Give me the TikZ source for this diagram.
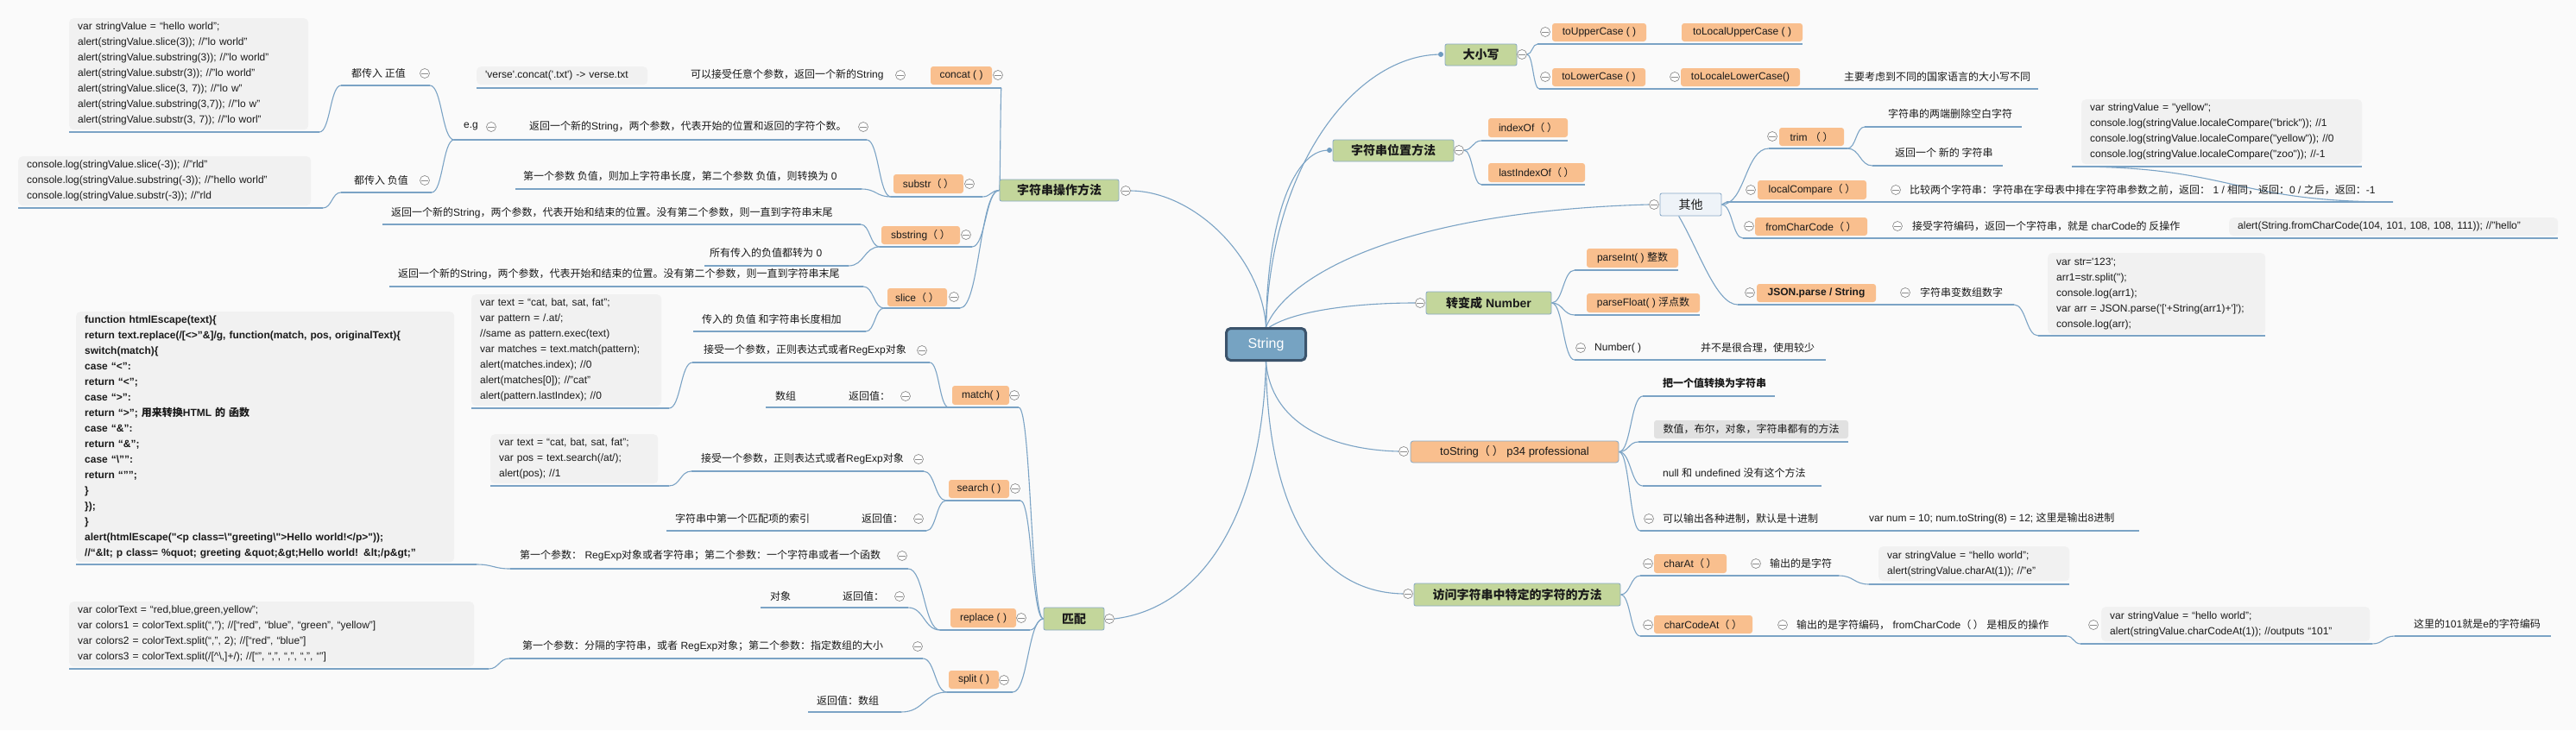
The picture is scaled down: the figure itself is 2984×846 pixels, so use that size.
\documentclass[tikz,border=0pt]{standalone}
\usepackage{fontspec}
\setmainfont{Liberation Sans}[Ligatures=TeXOff]
\newfontfamily\cjkfont{Noto Sans CJK SC}
\usetikzlibrary{calc}
\pgfdeclarelayer{back}
\pgfdeclarelayer{lines}
\pgfsetlayers{back,lines,main}
\definecolor{bgc}{HTML}{FAFAFA}
\definecolor{lnc}{HTML}{7BA3C5}
\definecolor{orng}{HTML}{F9BF8E}
\definecolor{grn}{HTML}{C3D69B}
\definecolor{gbord}{HTML}{88A9C6}
\definecolor{codebg}{HTML}{F1F1F1}
\definecolor{graybox}{HTML}{E1E1E1}
\definecolor{qtfill}{HTML}{EEF3F8}
\definecolor{rootf}{HTML}{76A3C2}
\definecolor{rootb}{HTML}{3B536B}
\definecolor{circc}{HTML}{8C8C8C}
\definecolor{txtc}{HTML}{1A1A1A}
\definecolor{dotc}{HTML}{6E9BC0}
\newcommand\zh[1]{{\cjkfont #1}}
\newcommand\mmlink[2]{\draw[ln] let \p1=(#1), \p2=(#2) in (\p1) .. controls ({0.5*\x1+0.5*\x2},\y1) and ({0.5*\x1+0.5*\x2},\y2) .. (\p2);}
\newcommand\mmul[5]{\coordinate (#1) at (#2,#5); \coordinate (#3) at (#4,#5); \draw[ln] (#1) -- (#3);}
\tikzset{
  ln/.style={draw=lnc, line width=1.1pt},
  lbl/.style={anchor=west, inner sep=0pt, text=txtc, font=\fontsize{12}{14}\selectfont},
  ob/.style={fill=orng, rounded corners=3pt, inner sep=0pt, text=txtc, font=\fontsize{12}{14}\selectfont},
  gb/.style={fill=grn, draw=gbord, line width=0.8pt, rounded corners=2pt, inner sep=0pt, text=txtc, font=\fontsize{14}{16}\selectfont\bfseries},
  codebox/.style={fill=codebg, rounded corners=5pt, anchor=north west, inner xsep=10pt, inner ysep=0pt, align=left, text=txtc, font=\fontsize{12}{18}\selectfont},
  mc/.style={circle, draw=circc, fill=white, line width=0.7pt, minimum size=11pt, inner sep=0pt,
    path picture={\draw[circc, line width=0.7pt] ([xshift=-3.6pt]path picture bounding box.center) -- ([xshift=3.6pt]path picture bounding box.center);}},
  dotm/.style={circle, fill=dotc, minimum size=6pt, inner sep=0pt},
  rootst/.style={draw=rootb, line width=3pt, fill=rootf, rounded corners=5pt, minimum width=92pt, minimum height=37pt, text=white, font=\fontsize{16}{18}\selectfont}
}
\begin{document}
\begin{tikzpicture}[x=1pt,y=-1pt]
\useasboundingbox (0,0) rectangle (2984,846);
\begin{pgfonlayer}{back}\fill[bgc] (0,0) rectangle (2984,846);\end{pgfonlayer}

% ---------- root
\node[rootst] (root) at (1466.5,399) {String};

% ---------- left main branches
\node[gb, minimum width=138pt, minimum height=25pt] (opbox) at (1227,220.5) {\zh{字符串操作方法}};
\node[mc] (cOp) at (1304,221) {};
\node[gb, minimum width=70pt, minimum height=26pt] (pp) at (1244,717) {\zh{匹配}};
\node[mc] (cPp) at (1285,717) {};

% concat
\node[ob, minimum width=71pt, minimum height=21pt] (concat) at (1113.5,87.5) {concat ( )};
\node[mc] (c01) at (1156,87) {};
\node[lbl] (l01) at (800,87) {\zh{可以接受任意个参数，返回一个新的}String};
\node[mc] (c02) at (1043,87) {};
\node[codebox, text width=178pt, minimum height=21pt] (verse) at (552,77) {'verse'.concat('.txt') -> verse.txt};

% substr
\node[ob, minimum width=81pt, minimum height=22pt] (substr) at (1075.5,213) {substr\zh{（ ）}};
\node[mc] (c03) at (1123,213) {};
\node[lbl] (l02) at (613,147) {\zh{返回一个新的}String\zh{，两个参数，代表开始的位置和返回的字符个数。}};
\node[mc] (c04) at (1000,147) {};
\node[lbl] (l03) at (606,204) {\zh{第一个参数 负值，则加上字符串长度，第二个参数 负值，则转换为} 0};
\node[lbl] (l04) at (537,147) {e.g};
\node[mc] (c05) at (569,147) {};
\node[lbl] (l05) at (407,85) {\zh{都传入 正值}};
\node[mc] (c06) at (492,85) {};
\node[lbl] (l06) at (410,209) {\zh{都传入 负值}};
\node[mc] (c07) at (492,209) {};
\node[codebox, text width=257pt, minimum height=129pt] (codeA) at (80,21) {var stringValue = “hello world”;\\
alert(stringValue.slice(3)); //”lo world”\\
alert(stringValue.substring(3)); //”lo world”\\
alert(stringValue.substr(3)); //”lo world”\\
alert(stringValue.slice(3, 7)); //”lo w”\\
alert(stringValue.substring(3,7)); //”lo w”\\
alert(stringValue.substr(3, 7)); //”lo worl”};
\node[codebox, text width=319pt, minimum height=57pt] (codeB) at (21,181) {console.log(stringValue.slice(-3)); //”rld”\\
console.log(stringValue.substring(-3)); //”hello world”\\
console.log(stringValue.substr(-3)); //”rld};

% sbstring
\node[ob, minimum width=91pt, minimum height=21pt] (sbstring) at (1066.5,272.5) {sbstring\zh{（ ）}};
\node[mc] (c08) at (1119,272) {};
\node[lbl] (l07) at (453,247) {\zh{返回一个新的}String\zh{，两个参数，代表开始和结束的位置。没有第二个参数，则一直到字符串末尾}};
\node[lbl] (l08) at (822,293) {\zh{所有传入的负值都转为} 0};

% slice
\node[ob, minimum width=69pt, minimum height=21pt] (slice) at (1062.5,344.5) {slice\zh{（ ）}};
\node[mc] (c09) at (1105,344) {};
\node[lbl] (l09) at (461,318) {\zh{返回一个新的}String\zh{，两个参数，代表开始和结束的位置。没有第二个参数，则一直到字符串末尾}};
\node[lbl] (l10) at (813,370) {\zh{传入的 负值 和字符串长度相加}};

% match
\node[ob, minimum width=66pt, minimum height=22pt] (match) at (1136,458) {match( )};
\node[mc] (c10) at (1175,458) {};
\node[lbl] (l11) at (815,406) {\zh{接受一个参数，正则表达式或者}RegExp\zh{对象}};
\node[mc] (c11) at (1068,406) {};
\node[lbl] (l12) at (898,459) {\zh{数组}};
\node[lbl] (l13) at (983,459) {\zh{返回值：}};
\node[mc] (c12) at (1049,459) {};
\node[codebox, text width=200pt, minimum height=129pt] (codeM) at (546,341) {var text = “cat, bat, sat, fat”;\\
var pattern = /.at/;\\
//same as pattern.exec(text)\\
var matches = text.match(pattern);\\
alert(matches.index); //0\\
alert(matches[0]); //”cat”\\
alert(pattern.lastIndex); //0};

% htmlEscape
\node[codebox, text width=418pt, minimum height=290pt, font=\fontsize{12}{18}\selectfont\bfseries] (codeH) at (88,361) {function htmlEscape(text)\{\\
return text.replace(/[<>”\&]/g, function(match, pos, originalText)\{\\
switch(match)\{\\
case “<”:\\
return “<”;\\
case “>”:\\
return “>”; \zh{用来转换}HTML \zh{的 函数}\\
case “\&”:\\
return “\&”;\\
case “\textbackslash””:\\
return “””;\\
\}\\
\});\\
\}\\
alert(htmlEscape("<p class=\textbackslash"greeting\textbackslash">Hello world!</p>"));\\
//“\&lt; p class= \%quot; greeting \&quot;\&gt;Hello world! \&lt;/p\&gt;”};

% search
\node[ob, minimum width=70pt, minimum height=21pt] (search) at (1134,566.5) {search ( )};
\node[mc] (c13) at (1176,566) {};
\node[lbl] (l14) at (812,532) {\zh{接受一个参数，正则表达式或者}RegExp\zh{对象}};
\node[mc] (c14) at (1064,532) {};
\node[lbl] (l15) at (782,601) {\zh{字符串中第一个匹配项的索引}};
\node[lbl] (l16) at (998,601) {\zh{返回值：}};
\node[mc] (c15) at (1064,601) {};
\node[codebox, text width=174pt, minimum height=57pt] (codeS) at (568,503) {var text = “cat, bat, sat, fat”;\\
var pos = text.search(/at/);\\
alert(pos); //1};

% replace
\node[ob, minimum width=76pt, minimum height=22pt] (replace) at (1139,716) {replace ( )};
\node[mc] (c16) at (1183,716) {};
\node[lbl] (l17) at (602,644) {\zh{第一个参数：} RegExp\zh{对象或者字符串；第二个参数：一个字符串或者一个函数}};
\node[mc] (c17) at (1045,644) {};
\node[lbl] (l18) at (892,691) {\zh{对象}};
\node[lbl] (l19) at (976,691) {\zh{返回值：}};
\node[mc] (c18) at (1042,691) {};

% split
\node[ob, minimum width=58pt, minimum height=21pt] (split) at (1128,787.5) {split ( )};
\node[mc] (c19) at (1163,788) {};
\node[lbl] (l20) at (605,749) {\zh{第一个参数：分隔的字符串，或者} RegExp\zh{对象；第二个参数：指定数组的大小}};
\node[mc] (c20) at (1063,749) {};
\node[lbl] (l21) at (946,812) {\zh{返回值：数组}};
\node[codebox, text width=449pt, minimum height=75pt] (codeT) at (80,697) {var colorText = “red,blue,green,yellow”;\\
var colors1 = colorText.split(“,”); //[“red”, “blue”, “green”, “yellow”]\\
var colors2 = colorText.split(“,”, 2); //[“red”, “blue”]\\
var colors3 = colorText.split(/[\textasciicircum\textbackslash,]+/); //[“”, “,”, “,”, “,”, “”]};

% ---------- right main branches
\node[gb, minimum width=83pt, minimum height=25pt] (dx) at (1715.5,63.5) {\zh{大小写}};
\node[dotm] (dDx) at (1669,63) {};
\node[mc] (cDx) at (1763,63) {};
\node[ob, minimum width=109pt, minimum height=21pt] (tup) at (1852.5,37.5) {toUpperCase ( )};
\node[mc] (c21) at (1790,37) {};
\node[ob, minimum width=140pt, minimum height=21pt] (tlup) at (2018,37.5) {toLocalUpperCase ( )};
\node[ob, minimum width=108pt, minimum height=21pt] (tlo) at (1852,89.5) {toLowerCase ( )};
\node[mc] (c22) at (1790,89) {};
\node[ob, minimum width=138pt, minimum height=21pt] (tllo) at (2016,89.5) {toLocaleLowerCase()};
\node[mc] (c23) at (1940,89) {};
\node[lbl] (l22) at (2136,89) {\zh{主要考虑到不同的国家语言的大小写不同}};

\node[gb, minimum width=140pt, minimum height=25pt] (wz) at (1614,174.5) {\zh{字符串位置方法}};
\node[dotm] (dWz) at (1540,174) {};
\node[mc] (cWz) at (1690,174) {};
\node[ob, minimum width=92pt, minimum height=22pt] (idx) at (1770,148) {indexOf\zh{（ ）}};
\node[ob, minimum width=112pt, minimum height=22pt] (lidx) at (1780,200) {lastIndexOf\zh{（ ）}};

\node[fill=qtfill, draw=gbord, line width=0.8pt, rounded corners=2pt, inner sep=0pt, minimum width=71pt, minimum height=26pt, text=txtc, font=\fontsize{14}{16}\selectfont] (qt) at (1958.5,237) {\zh{其他}};
\node[mc] (cQt) at (1916,237) {};
\node[ob, minimum width=75pt, minimum height=21pt] (trim) at (2098.5,158.5) {trim \zh{（ ）}};
\node[mc] (c24) at (2053,158) {};
\node[lbl] (l23) at (2187,132) {\zh{字符串的两端删除空白字符}};
\node[lbl] (l24) at (2195,177) {\zh{返回一个 新的 字符串}};
\node[ob, minimum width=126pt, minimum height=22pt] (lcmp) at (2099,220) {localCompare\zh{（ ）}};
\node[mc] (c25) at (2028,220) {};
\node[lbl] (l25) at (2212,220) {\zh{比较两个字符串：字符串在字母表中排在字符串参数之前，返回：} 1 / \zh{相同，返回：}0 / \zh{之后，返回：}-1};
\node[mc] (c26) at (2196,220) {};
\node[codebox, text width=305pt, minimum height=75pt] (codeL) at (2411,115) {var stringValue = "yellow";\\
console.log(stringValue.localeCompare("brick")); //1\\
console.log(stringValue.localeCompare("yellow")); //0\\
console.log(stringValue.localeCompare("zoo")); //-1};
\node[ob, minimum width=130pt, minimum height=21pt] (fcc) at (2098,262.5) {fromCharCode\zh{（ ）}};
\node[mc] (c27) at (2026,262) {};
\node[lbl] (l26) at (2215,262) {\zh{接受字符编码，返回一个字符串，就是} charCode\zh{的 反操作}};
\node[mc] (c28) at (2198,262) {};
\node[codebox, text width=361pt, minimum height=21pt] (alertb) at (2582,252) {alert(String.fromCharCode(104, 101, 108, 108, 111)); //”hello”};
\node[ob, minimum width=138pt, minimum height=21pt, font=\fontsize{12}{14}\selectfont\bfseries] (json) at (2104,339.5) {JSON.parse / String};
\node[mc] (c29) at (2027,339) {};
\node[lbl] (l27) at (2224,339) {\zh{字符串变数组数字}};
\node[mc] (c30) at (2207,339) {};
\node[codebox, text width=232pt, minimum height=94pt] (codeJ) at (2372,293) {var str='123';\\
arr1=str.split('');\\
console.log(arr1);\\
var arr = JSON.parse('['+String(arr1)+']');\\
console.log(arr);};

\node[gb, minimum width=145pt, minimum height=26pt] (nb) at (1724.5,351) {\zh{转变成} Number};
\node[mc] (cNb) at (1645,351) {};
\node[ob, minimum width=106pt, minimum height=22pt] (pint) at (1891,299) {parseInt( ) \zh{整数}};
\node[ob, minimum width=131pt, minimum height=22pt] (pflt) at (1903.5,351) {parseFloat( ) \zh{浮点数}};
\node[mc] (c31) at (1831,403) {};
\node[lbl] (l28) at (1847,403) {Number( )};
\node[lbl] (l29) at (1970,403) {\zh{并不是很合理，使用较少}};

\node[ob, draw=gbord, line width=0.8pt, minimum width=241pt, minimum height=25pt, font=\fontsize{13}{15}\selectfont] (ts) at (1754.5,523.5) {toString\zh{（ ）} p34 professional};
\node[mc] (cTs) at (1626,523) {};
\node[lbl, font=\fontsize{12}{14}\selectfont\bfseries] (l30) at (1926,444) {\zh{把一个值转换为字符串}};
\node[fill=graybox, rounded corners=3pt, inner sep=0pt, minimum width=225pt, minimum height=21pt, text=txtc, font=\fontsize{12}{14}\selectfont] (gbx) at (2028.5,497.5) {\zh{数值，布尔，对象，字符串都有的方法}};
\node[lbl] (l31) at (1926,548) {null \zh{和} undefined \zh{没有这个方法}};
\node[mc] (c32) at (1910,601) {};
\node[lbl] (l32) at (1926,601) {\zh{可以输出各种进制，默认是十进制}};
\node[lbl] (l33) at (2165,601) {var num = 10; num.toString(8) = 12; \zh{这里是输出}8\zh{进制}};

\node[gb, minimum width=239pt, minimum height=26pt] (fw) at (1757.5,689) {\zh{访问字符串中特定的字符的方法}};
\node[mc] (cFw) at (1631,688) {};
\node[ob, minimum width=84pt, minimum height=22pt] (chat) at (1958,653) {charAt\zh{（ ）}};
\node[mc] (c33) at (1909,653) {};
\node[lbl] (l34) at (2050,653) {\zh{输出的是字符}};
\node[mc] (c34) at (2034,653) {};
\node[codebox, text width=201pt, minimum height=40pt] (codeC) at (2176,633) {var stringValue = “hello world”;\\
alert(stringValue.charAt(1)); //”e”};
\node[ob, minimum width=114pt, minimum height=21pt] (chca) at (1973,723.5) {charCodeAt\zh{（ ）}};
\node[mc] (c35) at (1909,724) {};
\node[lbl] (l35) at (2081,724) {\zh{输出的是字符编码，} fromCharCode\zh{（ ）} \zh{是相反的操作}};
\node[mc] (c36) at (2065,724) {};
\node[codebox, text width=291pt, minimum height=40pt] (codeD) at (2434,703) {var stringValue = “hello world”;\\
alert(stringValue.charCodeAt(1)); //outputs “101”};
\node[mc] (c37) at (2425,724) {};
\node[lbl] (l36) at (2796,723) {\zh{这里的}101\zh{就是}e\zh{的字符编码}};

% ---------- connectors
\begin{pgfonlayer}{lines}
% root links
\draw[ln] (root.north) .. controls (1462,300) and (1385,222) .. (cOp.east);
\draw[ln] (root.north) .. controls (1472,190) and (1570,66) .. (dDx);
\draw[ln] (root.north) .. controls (1468,250) and (1500,176) .. (dWz);
\draw[ln] (root.north) .. controls (1490,320) and (1620,245) .. (cQt.west);
\draw[ln] ([xshift=4pt]root.north) .. controls (1500,360) and (1570,351) .. (cNb.west);
\draw[ln] (root.south) .. controls (1462,600) and (1390,705) .. (cPp.east);
\draw[ln] (root.south) .. controls (1472,490) and (1540,521) .. (cTs.west);
\draw[ln] (root.south) .. controls (1468,580) and (1520,686) .. (cFw.west);

% left underlines
\mmul{concatL}{552}{concatR}{1160}{102}
\mmul{subL}{1032}{subR}{1138}{228}
\mmul{egL}{526}{subAR}{1004}{162}
\mmul{zzL}{395}{zzR}{498}{99}
\mmul{caL}{80}{caR}{370}{153}
\mmul{fzL}{395}{fzR}{500}{223}
\mmul{cbL}{21}{cbR}{374}{241}
\mmul{subBL}{597}{subBR}{998}{219}
\mmul{sbL}{1019}{sbR}{1126}{286}
\mmul{sbAL}{443}{sbAR}{997}{260}
\mmul{sbBL}{816}{sbBR}{983}{308}
\mmul{slL}{1024}{slR}{1112}{357}
\mmul{slAL}{451}{slAR}{1000}{332}
\mmul{slBL}{803}{slBR}{1003}{384}
\mmul{maL}{887}{maR}{1180}{472}
\coordinate (maJ) at (1099,472);
\mmul{maAL}{802}{maAR}{1077}{420}
\mmul{cmL}{546}{cmR}{775}{473}
\mmul{seL}{1096}{seR}{1182}{580}
\mmul{seAL}{801}{seAR}{1070}{546}
\mmul{csL}{568}{csR}{775}{563}
\mmul{seBL}{772}{seBR}{1073}{615}
\mmul{reL}{1089}{reR}{1193}{730}
\mmul{reAL}{591}{reAR}{1052}{659}
\mmul{chL}{88}{chR}{552}{654}
\mmul{reBL}{881}{reBR}{1052}{704}
\mmul{spL}{1097}{spR}{1173}{802}
\mmul{spAL}{590}{spAR}{1069}{763}
\mmul{ctL}{80}{ctR}{566}{775}
\mmul{spBL}{936}{spBR}{1044}{825}
% left links
\mmlink{opbox.west}{concatR}
\mmlink{opbox.west}{subR}
\mmlink{opbox.west}{sbR}
\mmlink{opbox.west}{slR}
\mmlink{subL}{subAR}
\mmlink{subL}{subBR}
\mmlink{egL}{zzR}
\mmlink{egL}{fzR}
\mmlink{zzL}{caR}
\mmlink{fzL}{cbR}
\mmlink{sbL}{sbAR}
\mmlink{sbL}{sbBR}
\mmlink{slL}{slAR}
\mmlink{slL}{slBR}
\mmlink{pp.west}{maR}
\mmlink{pp.west}{seR}
\mmlink{pp.west}{reR}
\mmlink{pp.west}{spR}
\mmlink{maJ}{maAR}
\mmlink{maAL}{cmR}
\mmlink{seL}{seAR}
\mmlink{seAL}{csR}
\mmlink{seL}{seBR}
\mmlink{reL}{reAR}
\mmlink{reAL}{chR}
\mmlink{reL}{reBR}
\mmlink{spL}{spAR}
\mmlink{spAL}{ctR}
\mmlink{spL}{spBR}

% right underlines
\mmul{upL}{1781}{upR}{2088}{51}
\mmul{loL}{1783}{loR}{2361}{103}
\mmul{ixL}{1716}{ixR}{1816}{163}
\mmul{lixL}{1716}{lixR}{1836}{214}
\mmul{trL}{2049}{trR}{2140}{172}
\mmul{trAL}{2160}{trAR}{2342}{147}
\mmul{trBL}{2169}{trBR}{2320}{192}
\mmul{lcL}{2000}{lcR}{2772}{234}
\mmul{clL}{2400}{clR}{2736}{193}
\mmul{fcL}{2019}{fcR}{2963}{276}
\mmul{jsL}{2013}{jsR}{2333}{353}
\mmul{cjL}{2361}{cjR}{2624}{389}
\mmul{piL}{1824}{piR}{1944}{313}
\mmul{pfL}{1824}{pfR}{1969}{365}
\mmul{nuL}{1824}{nuR}{2115}{417}
\mmul{tAL}{1903}{tAR}{2056}{459}
\mmul{tBL}{1898}{tBR}{2141}{512}
\mmul{tCL}{1903}{tCR}{2110}{563}
\mmul{tDL}{1900}{tDR}{2478}{615}
\mmul{chaL}{1900}{chaR}{2130}{667}
\mmul{ccL}{2165}{ccR}{2397}{677}
\mmul{ccaL}{1900}{ccaR}{2394}{737}
\mmul{cdL}{2410}{cdR}{2748}{746}
\mmul{ntL}{2774}{ntR}{2955}{737}
% right links
\mmlink{cDx.east}{upL}
\mmlink{cDx.east}{loL}
\mmlink{cWz.east}{ixL}
\mmlink{cWz.east}{lixL}
\mmlink{qt.east}{trL}
\mmlink{qt.east}{lcL}
\mmlink{qt.east}{fcL}
\draw[ln] ([xshift=22pt]qt.south west) .. controls (1968,290) and (1988,353) .. (jsL);
\mmlink{trR}{trAL}
\mmlink{trR}{trBL}
\mmlink{clL}{lcR}
\mmlink{jsR}{cjL}
\mmlink{nb.east}{piL}
\mmlink{nb.east}{pfL}
\mmlink{nb.east}{nuL}
\mmlink{ts.east}{tAL}
\mmlink{ts.east}{tBL}
\mmlink{ts.east}{tCL}
\mmlink{ts.east}{tDL}
\mmlink{fw.east}{chaL}
\mmlink{chaR}{ccL}
\mmlink{fw.east}{ccaL}
\mmlink{ccaR}{cdL}
\mmlink{cdR}{ntL}
\end{pgfonlayer}
\end{tikzpicture}
\end{document}
